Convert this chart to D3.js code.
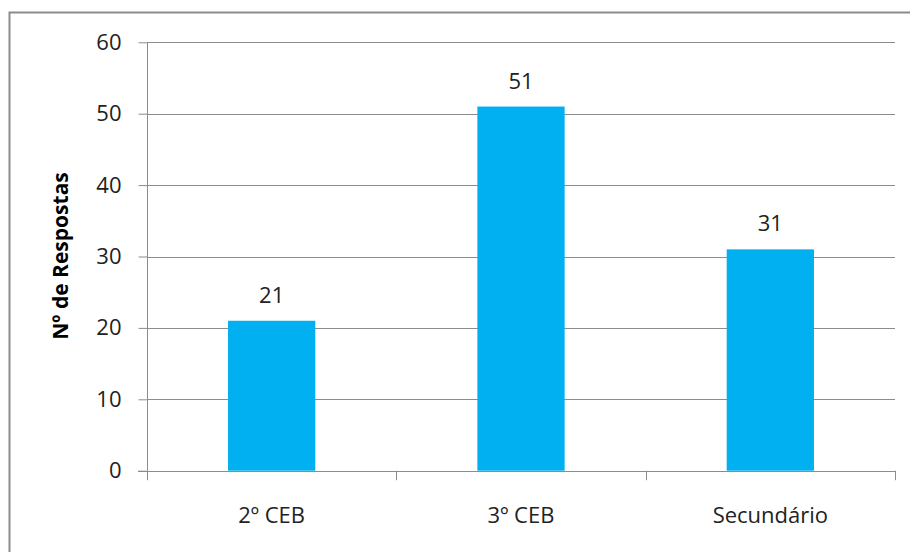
<!DOCTYPE html>
<html><head><meta charset="utf-8">
<script src="https://cdn.jsdelivr.net/npm/d3@7"></script>
<style>body{margin:0;background:#fff}svg{display:block}</style>
</head><body>
<svg id="c" width="910" height="552"></svg>
<script>
const categories = ["2º CEB", "3º CEB", "Secundário"];
const values = [21, 51, 31];
const yTicks = [0, 10, 20, 30, 40, 50, 60];
const yTitle = "Nº de Respostas";

(function () {
const svg = d3.select("#c");
const font = "'Open Sans', 'Liberation Sans', sans-serif";
const fs = 22;
const pl = 147, pr = 895, pt = 42.3, pb = 470.7;

// outer border (top and left visible)
svg.append("path").attr("d", "M9.5,552 V12.5 H910").attr("fill", "none").attr("stroke", "#8c8c8c").attr("stroke-width", 2);

const x = d3.scaleBand().domain(categories).range([pl, pr]).paddingInner(0.65).paddingOuter(0.325);
const y = d3.scaleLinear().domain([0, 60]).range([pb, pt]);

// gridlines
svg.append("g").selectAll("line").data(yTicks.filter(d => d > 0)).join("line")
  .attr("x1", pl).attr("x2", pr)
  .attr("y1", d => Math.round(y(d)) + 0.5).attr("y2", d => Math.round(y(d)) + 0.5)
  .attr("stroke", "#8c8c8c").attr("stroke-width", 1);

// bars
svg.append("g").selectAll("rect").data(values).join("rect")
  .attr("x", (d, i) => x(categories[i]))
  .attr("width", x.bandwidth())
  .attr("y", d => y(d))
  .attr("height", d => y(0) - y(d))
  .attr("fill", "#00b0f0");

// y axis
const yAxis = d3.axisLeft(y).tickValues(yTicks).tickSize(9).tickPadding(17).tickFormat(d3.format("d"));
const gy = svg.append("g").attr("transform", `translate(${pl + 0.5},0)`).call(yAxis);
gy.select(".domain").attr("stroke", "#8c8c8c").attr("d", `M0,${pt}V${pb}`);
gy.selectAll(".tick line").attr("stroke", "#8c8c8c");
gy.selectAll(".tick text").attr("font-family", font).attr("font-size", fs).attr("fill", "#222");

// x axis
const xEdges = d3.scaleLinear().domain([0, categories.length]).range([pl, pr]);
const gx = svg.append("g");
gx.append("line").attr("x1", pl - 9).attr("x2", pr).attr("y1", Math.round(pb) + 0.5).attr("y2", Math.round(pb) + 0.5).attr("stroke", "#8c8c8c");
gx.selectAll("line.t").data(d3.range(categories.length + 1)).join("line").attr("class", "t")
  .attr("x1", i => Math.round(xEdges(i)) + 0.5).attr("x2", i => Math.round(xEdges(i)) + 0.5)
  .attr("y1", pb).attr("y2", pb + 9.5).attr("stroke", "#8c8c8c");
gx.selectAll("text").data(categories).join("text")
  .attr("x", d => x(d) + x.bandwidth() / 2).attr("y", 523)
  .attr("text-anchor", "middle").attr("font-family", font).attr("font-size", fs).attr("fill", "#222")
  .text(d => d);

// value labels
svg.append("g").selectAll("text").data(values).join("text")
  .attr("x", (d, i) => x(categories[i]) + x.bandwidth() / 2)
  .attr("y", d => y(d) - 18)
  .attr("text-anchor", "middle").attr("font-family", font).attr("font-size", fs).attr("fill", "#222")
  .text(d => d);

// y title
svg.append("text").attr("transform", "translate(68,256) rotate(-90)")
  .attr("text-anchor", "middle").attr("font-family", font).attr("font-weight", "bold").attr("font-size", 21).attr("fill", "#000")
  .text(yTitle);
})();
</script>
</body></html>
